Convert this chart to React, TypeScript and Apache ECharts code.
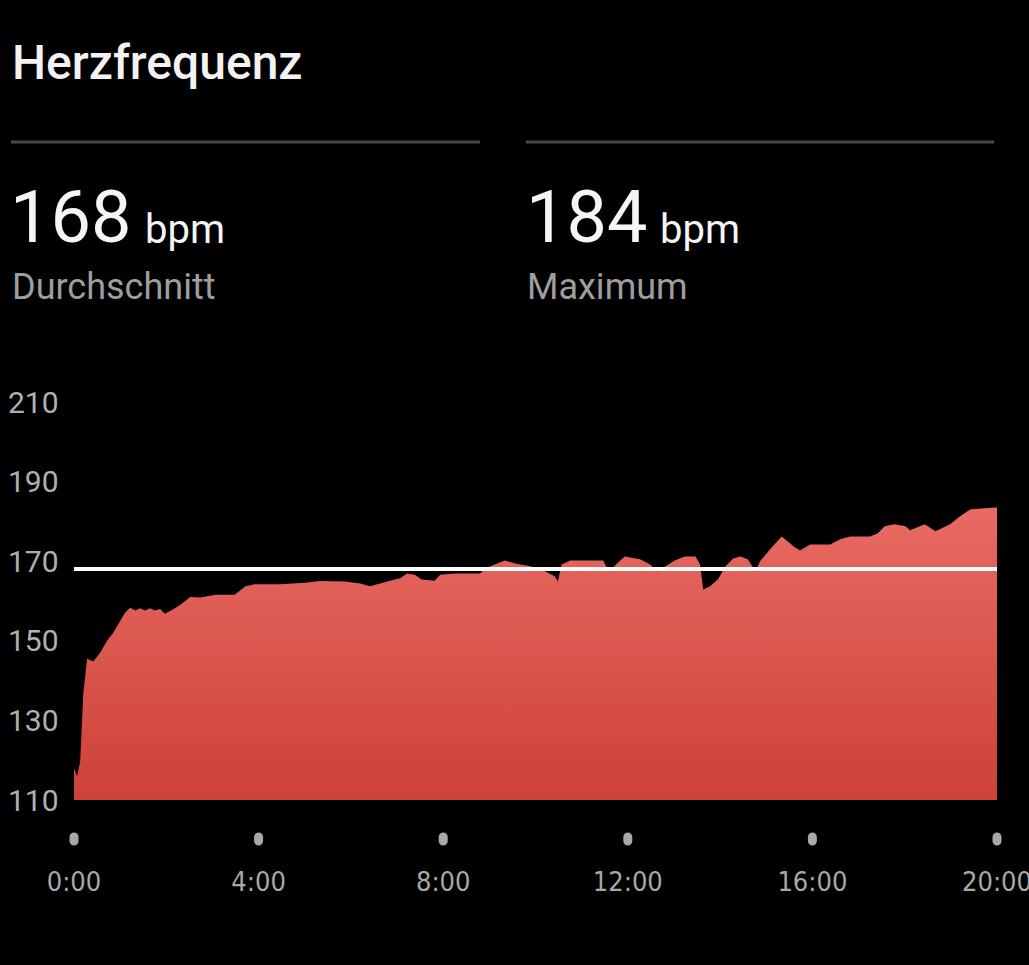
import React, { useEffect, useRef } from "react";
import * as echarts from "echarts";

// Time in seconds since start
const timeSec = [
  0, 4, 8, 12, 17, 25, 34, 43, 51, 57, 66, 73, 80, 86, 92, 99, 105, 112, 118, 125, 138, 151, 164, 184, 209, 223,
  235, 268, 300, 320, 352, 372, 385, 398, 411, 424, 433, 443, 452, 469, 476, 496, 528, 535, 547, 560, 574, 593,
  613, 625, 629, 634, 645, 688, 693, 700, 706, 716, 736, 749, 759, 769, 781, 794, 808, 814, 818, 827, 837, 847,
  857, 866, 876, 886, 892, 905, 920, 937, 944, 957, 983, 996, 1009, 1035, 1045, 1054, 1067, 1081, 1087, 1106,
  1120, 1139, 1152, 1165, 1184, 1200,
];
// Heart rate in bpm
const heartRate = [
  118, 116, 119.6, 136.5, 145.5, 144.8, 147, 150, 152, 154, 157, 158.3, 157.6, 158.2, 157.6, 158.2, 157.6, 158,
  156.8, 157.5, 159, 161, 160.9, 161.6, 161.6, 163.7, 164.2, 164.2, 164.6, 165, 164.9, 164.4, 163.7, 164.4, 165.1,
  165.7, 166.9, 166.6, 165.4, 165.1, 166.6, 166.9, 166.9, 168.2, 169.2, 170.2, 169.4, 168.7, 167.4, 166.2, 164.9,
  169.2, 170.2, 170.2, 168.2, 168.2, 169.4, 171.2, 170.5, 169.2, 167.4, 168.7, 170.2, 171.2, 171.2, 169.2, 162.9,
  163.7, 165.4, 168.7, 170.7, 171.2, 170.5, 167.4, 170, 173, 176.2, 173.5, 172.7, 174.2, 174.2, 175.5, 176.2, 176.2,
  177, 178.8, 179.3, 178.8, 177.8, 179.3, 177.5, 179.3, 181.3, 183, 183.3, 183.5,
];
const averageBpm = 168;
const maximumBpm = 184;
const yTicks = [110, 130, 150, 170, 190, 210];

export default function App() {
  const ref = useRef<HTMLDivElement>(null);
  useEffect(() => {
    if (!ref.current) return;
    const chart = echarts.init(ref.current, null, { renderer: "svg" });
    const data = timeSec.map((t, i) => [t, heartRate[i]]);
    chart.setOption({
      animation: false,
      backgroundColor: "#000000",
      grid: { left: 74, right: 32, top: 402, bottom: 165, outerBoundsMode: "none", containLabel: false },
      xAxis: {
        type: "value",
        min: 0,
        max: 1200,
        interval: 240,
        axisLine: { show: false },
        axisTick: { show: false },
        splitLine: { show: false },
        axisLabel: {
          margin: 17,
          hideOverlap: false,
          formatter: (v: number) => `{dot| }\n{t|${v / 60}:00}`,
          rich: {
            dot: { width: 9, height: 13, borderRadius: 6, backgroundColor: "#a8a8a8", lineHeight: 44 },
            t: {
              fontSize: 27,
              lineHeight: 40,
              color: "#a8a8a8",
              fontFamily: "'Liberation Sans Narrow', 'DejaVu Sans Condensed', Roboto",
            },
          },
        },
      },
      yAxis: {
        type: "value",
        min: 110,
        max: 210,
        interval: 20,
        axisLine: { show: false },
        axisTick: { show: false },
        splitLine: { show: false },
        axisLabel: {
          align: "left",
          margin: 66,
          fontSize: 30,
          color: "#b0b0b0",
          fontFamily: "Roboto",
          formatter: (v: number) => (yTicks.includes(v) ? String(v) : ""),
        },
      },
      series: [
        {
          type: "line",
          data,
          symbol: "none",
          lineStyle: { width: 0 },
          areaStyle: {
            origin: "start",
            opacity: 1,
            color: new echarts.graphic.LinearGradient(0, 0, 0, 1, [
              { offset: 0, color: "#e86b63" },
              { offset: 1, color: "#cd4138" },
            ]),
          },
          markLine: {
            silent: true,
            symbol: "none",
            label: { show: false },
            lineStyle: { color: "#ffffff", width: 4, type: "solid" },
            data: [{ yAxis: averageBpm }],
          },
        },
      ],
      graphic: [
        {
          type: "text",
          left: 12,
          top: 62 - 24,
          style: { text: "Herzfrequenz", fill: "#f2f2f2", font: "500 48px Roboto" },
        },
        { type: "line", shape: { x1: 11, y1: 142, x2: 480, y2: 142 }, style: { stroke: "#474747", lineWidth: 3 } },
        { type: "line", shape: { x1: 526, y1: 142, x2: 994, y2: 142 }, style: { stroke: "#474747", lineWidth: 3 } },
        {
          type: "text",
          x: 10,
          y: 217,
          style: { text: String(averageBpm), fill: "#f5f5f5", font: "400 72px Roboto", verticalAlign: "middle" },
        },
        {
          type: "text",
          x: 145,
          y: 229,
          style: { text: "bpm", fill: "#f5f5f5", font: "400 40px Roboto", verticalAlign: "middle" },
        },
        {
          type: "text",
          x: 12,
          y: 287,
          style: { text: "Durchschnitt", fill: "#9e9e9e", font: "400 36px Roboto", verticalAlign: "middle" },
        },
        {
          type: "text",
          x: 526,
          y: 217,
          style: { text: String(maximumBpm), fill: "#f5f5f5", font: "400 72px Roboto", verticalAlign: "middle" },
        },
        {
          type: "text",
          x: 660,
          y: 229,
          style: { text: "bpm", fill: "#f5f5f5", font: "400 40px Roboto", verticalAlign: "middle" },
        },
        {
          type: "text",
          x: 527,
          y: 287,
          style: { text: "Maximum", fill: "#9e9e9e", font: "400 36px Roboto", verticalAlign: "middle" },
        },
      ],
    });
    return () => chart.dispose();
  }, []);
  return (
    <div
      ref={ref}
      style={{ position: "fixed", left: 0, top: 0, width: 1029, height: 965, background: "#000" }}
    />
  );
}
